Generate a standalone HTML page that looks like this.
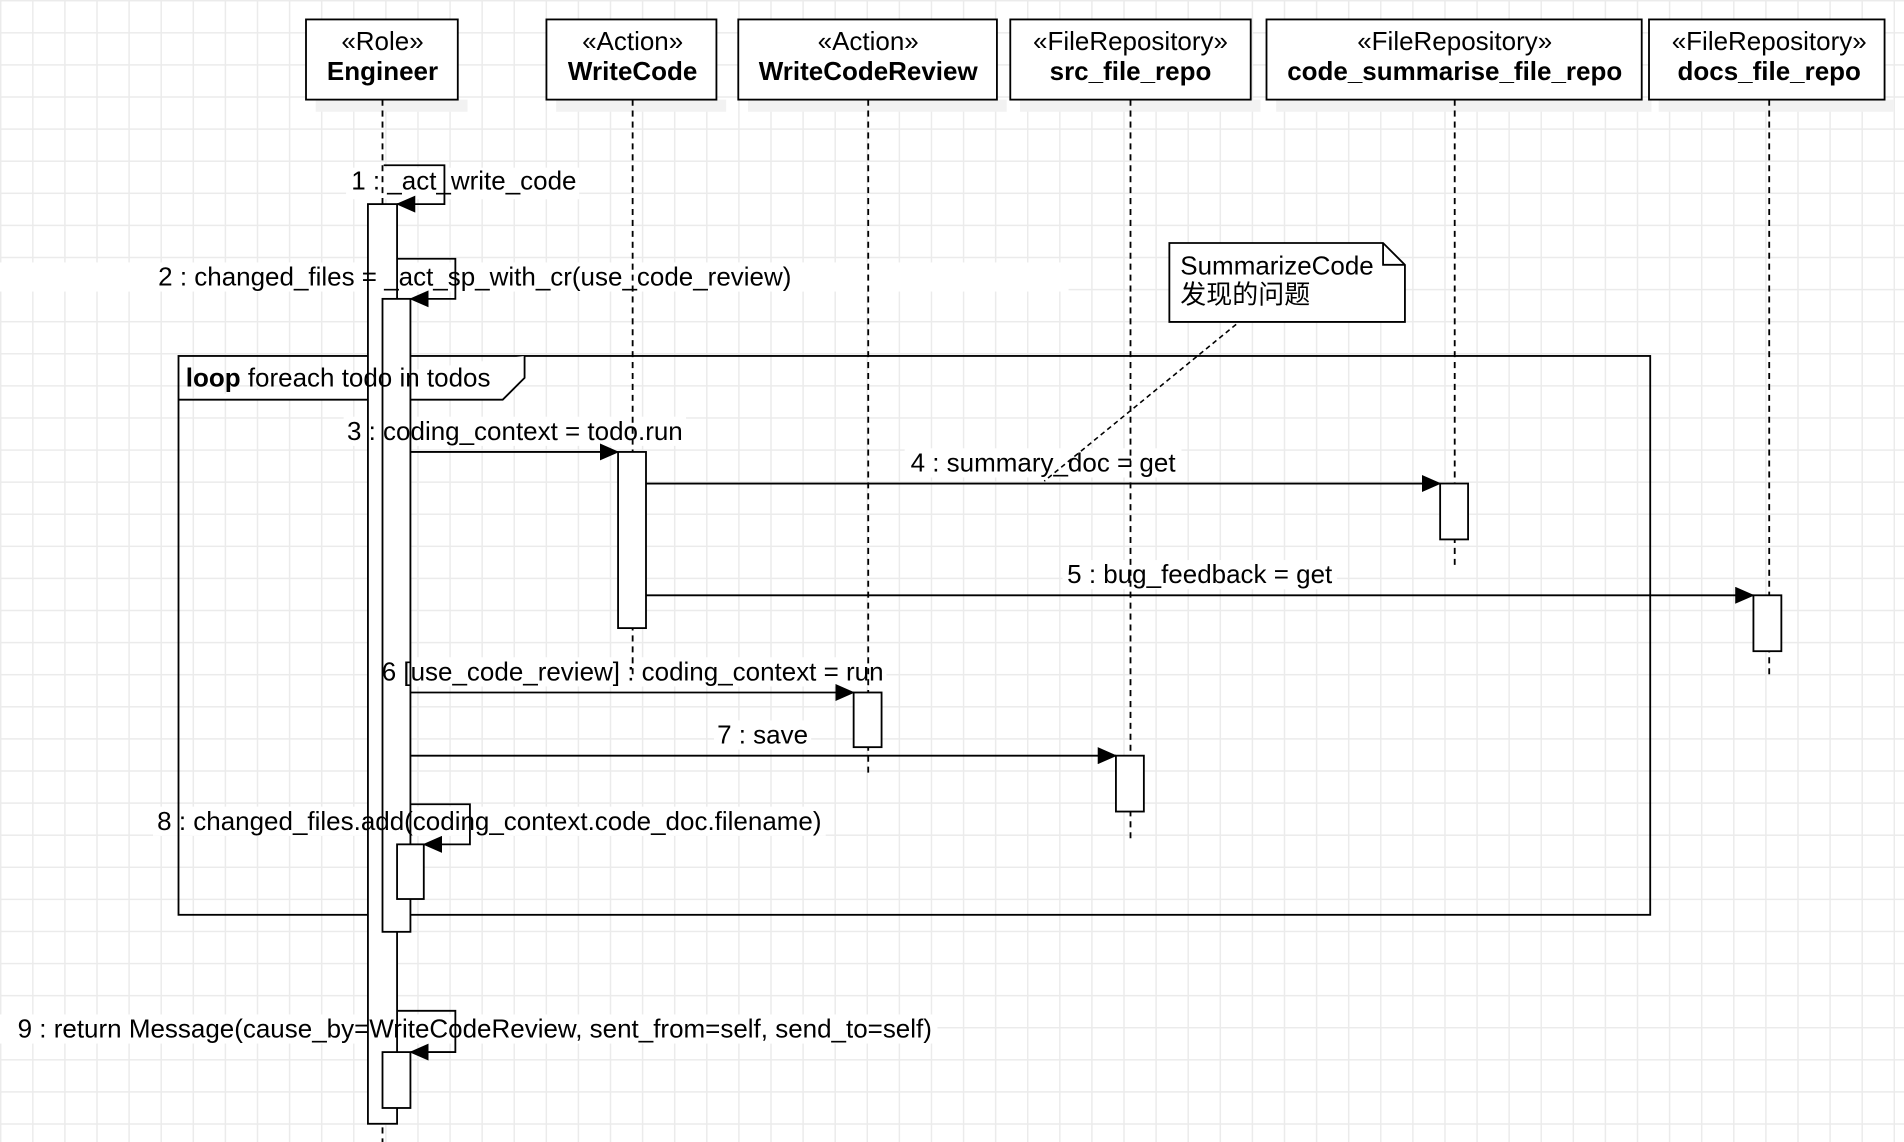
<!DOCTYPE html>
<html><head><meta charset="utf-8"><style>
html,body{margin:0;padding:0;}
body{width:1904px;height:1142px;overflow:hidden;background-color:#fff;
background-image:linear-gradient(to right,#ebebeb 1.3px,transparent 1.3px),linear-gradient(to bottom,#ebebeb 1.3px,transparent 1.3px);
background-size:32.1px 32.1px;background-position:0 0;}
svg{position:absolute;left:0;top:0;}
text{font-family:"Liberation Sans","Noto Sans CJK SC",sans-serif;font-size:21.4px;fill:#000;}
</style></head><body>
<svg width="1904" height="1142" viewBox="0 0 1568 940" preserveAspectRatio="none">
<defs>
<marker id="a" markerWidth="16" markerHeight="14" refX="15" refY="7" orient="auto" markerUnits="userSpaceOnUse">
<path d="M0,0 L16,7 L0,14 Z" fill="#000"/></marker>
</defs>
<!-- white label bands (behind everything) -->
<g fill="#fff">
<rect x="285" y="138" width="192" height="26"/>
<rect x="0" y="216" width="880" height="24"/>
<rect x="283" y="343" width="282" height="24"/>
<rect x="745" y="369" width="228" height="24"/>
<rect x="875" y="461" width="226" height="24"/>
<rect x="310" y="541" width="420" height="24"/>
<rect x="588" y="593" width="80" height="24"/>
<rect x="126" y="664" width="554" height="24"/>
<rect x="0" y="835" width="772" height="24"/>
</g>
<g fill="#f2f2f2">
<rect x="260" y="82" width="125" height="10"/><rect x="458" y="82" width="140" height="10"/>
<rect x="616" y="82" width="213" height="10"/><rect x="840" y="82" width="198" height="10"/>
<rect x="1051" y="82" width="309" height="10"/><rect x="1366" y="82" width="194" height="10"/>
</g>
<g stroke="#000" stroke-width="1.5" fill="#fff">
<rect x="252" y="16" width="125" height="66"/><rect x="450" y="16" width="140" height="66"/>
<rect x="608" y="16" width="213" height="66"/><rect x="832" y="16" width="198" height="66"/>
<rect x="1043" y="16" width="309" height="66"/><rect x="1358" y="16" width="194" height="66"/>
</g>
<g text-anchor="middle">
<text x="315" y="41">«Role»</text><text x="315" y="66" font-weight="bold">Engineer</text>
<text x="521" y="41">«Action»</text><text x="521" y="66" font-weight="bold">WriteCode</text>
<text x="715" y="41">«Action»</text><text x="715" y="66" font-weight="bold">WriteCodeReview</text>
<text x="931" y="41">«FileRepository»</text><text x="931" y="66" font-weight="bold">src_file_repo</text>
<text x="1198" y="41">«FileRepository»</text><text x="1198" y="66" font-weight="bold">code_summarise_file_repo</text>
<text x="1457" y="41">«FileRepository»</text><text x="1457" y="66" font-weight="bold">docs_file_repo</text>
</g>
<g stroke="#000" stroke-width="1.5" stroke-dasharray="5,4" fill="none">
<line x1="315" y1="82" x2="315" y2="940"/><line x1="521" y1="82" x2="521" y2="555"/>
<line x1="715" y1="82" x2="715" y2="638"/><line x1="931" y1="82" x2="931" y2="690"/>
<line x1="1198" y1="82" x2="1198" y2="465"/><line x1="1457" y1="82" x2="1457" y2="558"/>
</g>
<!-- loop frame -->
<g stroke="#000" stroke-width="1.5" fill="none">
<rect x="147" y="293" width="1212" height="460"/>
<path d="M147,329 L414,329 L432,311 L432,293" fill="#fff"/>
</g>
<!-- activations -->
<g stroke="#000" stroke-width="1.5" fill="#fff">
<rect x="303" y="168" width="24" height="757"/>
<rect x="315" y="246" width="23" height="521"/>
<rect x="327" y="695" width="22" height="45"/>
<rect x="315" y="866" width="23" height="46"/>
<rect x="509" y="372" width="23" height="145"/>
<rect x="1186" y="398" width="23" height="46"/>
<rect x="1444" y="490" width="23" height="46"/>
<rect x="703" y="570" width="23" height="45"/>
<rect x="919" y="622" width="23" height="46"/>
</g>
<text x="153" y="318"><tspan font-weight="bold">loop</tspan> foreach todo in todos</text>
<!-- messages -->
<g stroke="#000" stroke-width="1.5" fill="none" marker-end="url(#a)">
<path d="M316,136 L366,136 L366,168 L327,168"/>
<path d="M327,213 L375,213 L375,246 L338,246"/>
<path d="M338,662 L387,662 L387,695 L349,695"/>
<path d="M327,832 L375,832 L375,866 L338,866"/>
<line x1="338" y1="372" x2="509" y2="372"/>
<line x1="532" y1="398" x2="1186" y2="398"/>
<line x1="532" y1="490" x2="1444" y2="490"/>
<line x1="338" y1="570" x2="703" y2="570"/>
<line x1="338" y1="622" x2="919" y2="622"/>
</g>
<g text-anchor="middle">
<text x="382" y="156">1 : _act_write_code</text>
<text x="391" y="235">2 : changed_files = _act_sp_with_cr(use_code_review)</text>
<text x="424" y="362">3 : coding_context = todo.run</text>
<text x="859" y="388">4 : summary_doc = get</text>
<text x="988" y="480">5 : bug_feedback = get</text>
<text x="521" y="560">6 [use_code_review] : coding_context = run</text>
<text x="628" y="612">7 : save</text>
<text x="403" y="683">8 : changed_files.add(coding_context.code_doc.filename)</text>
<text x="391" y="854">9 : return Message(cause_by=WriteCodeReview, sent_from=self, send_to=self)</text>
</g>
<!-- note -->
<g stroke="#000" stroke-width="1.5" fill="#fff">
<path d="M963,200 L1139,200 L1157,218 L1157,265 L963,265 Z"/>
<path d="M1139,200 L1139,218 L1157,218" fill="none"/>
</g>
<text x="972" y="226">SummarizeCode</text>
<text x="972" y="250">发现的问题</text>
<line x1="1018" y1="267" x2="860" y2="396" stroke="#000" stroke-width="1.3" stroke-dasharray="4,3"/>
</svg>
</body></html>
